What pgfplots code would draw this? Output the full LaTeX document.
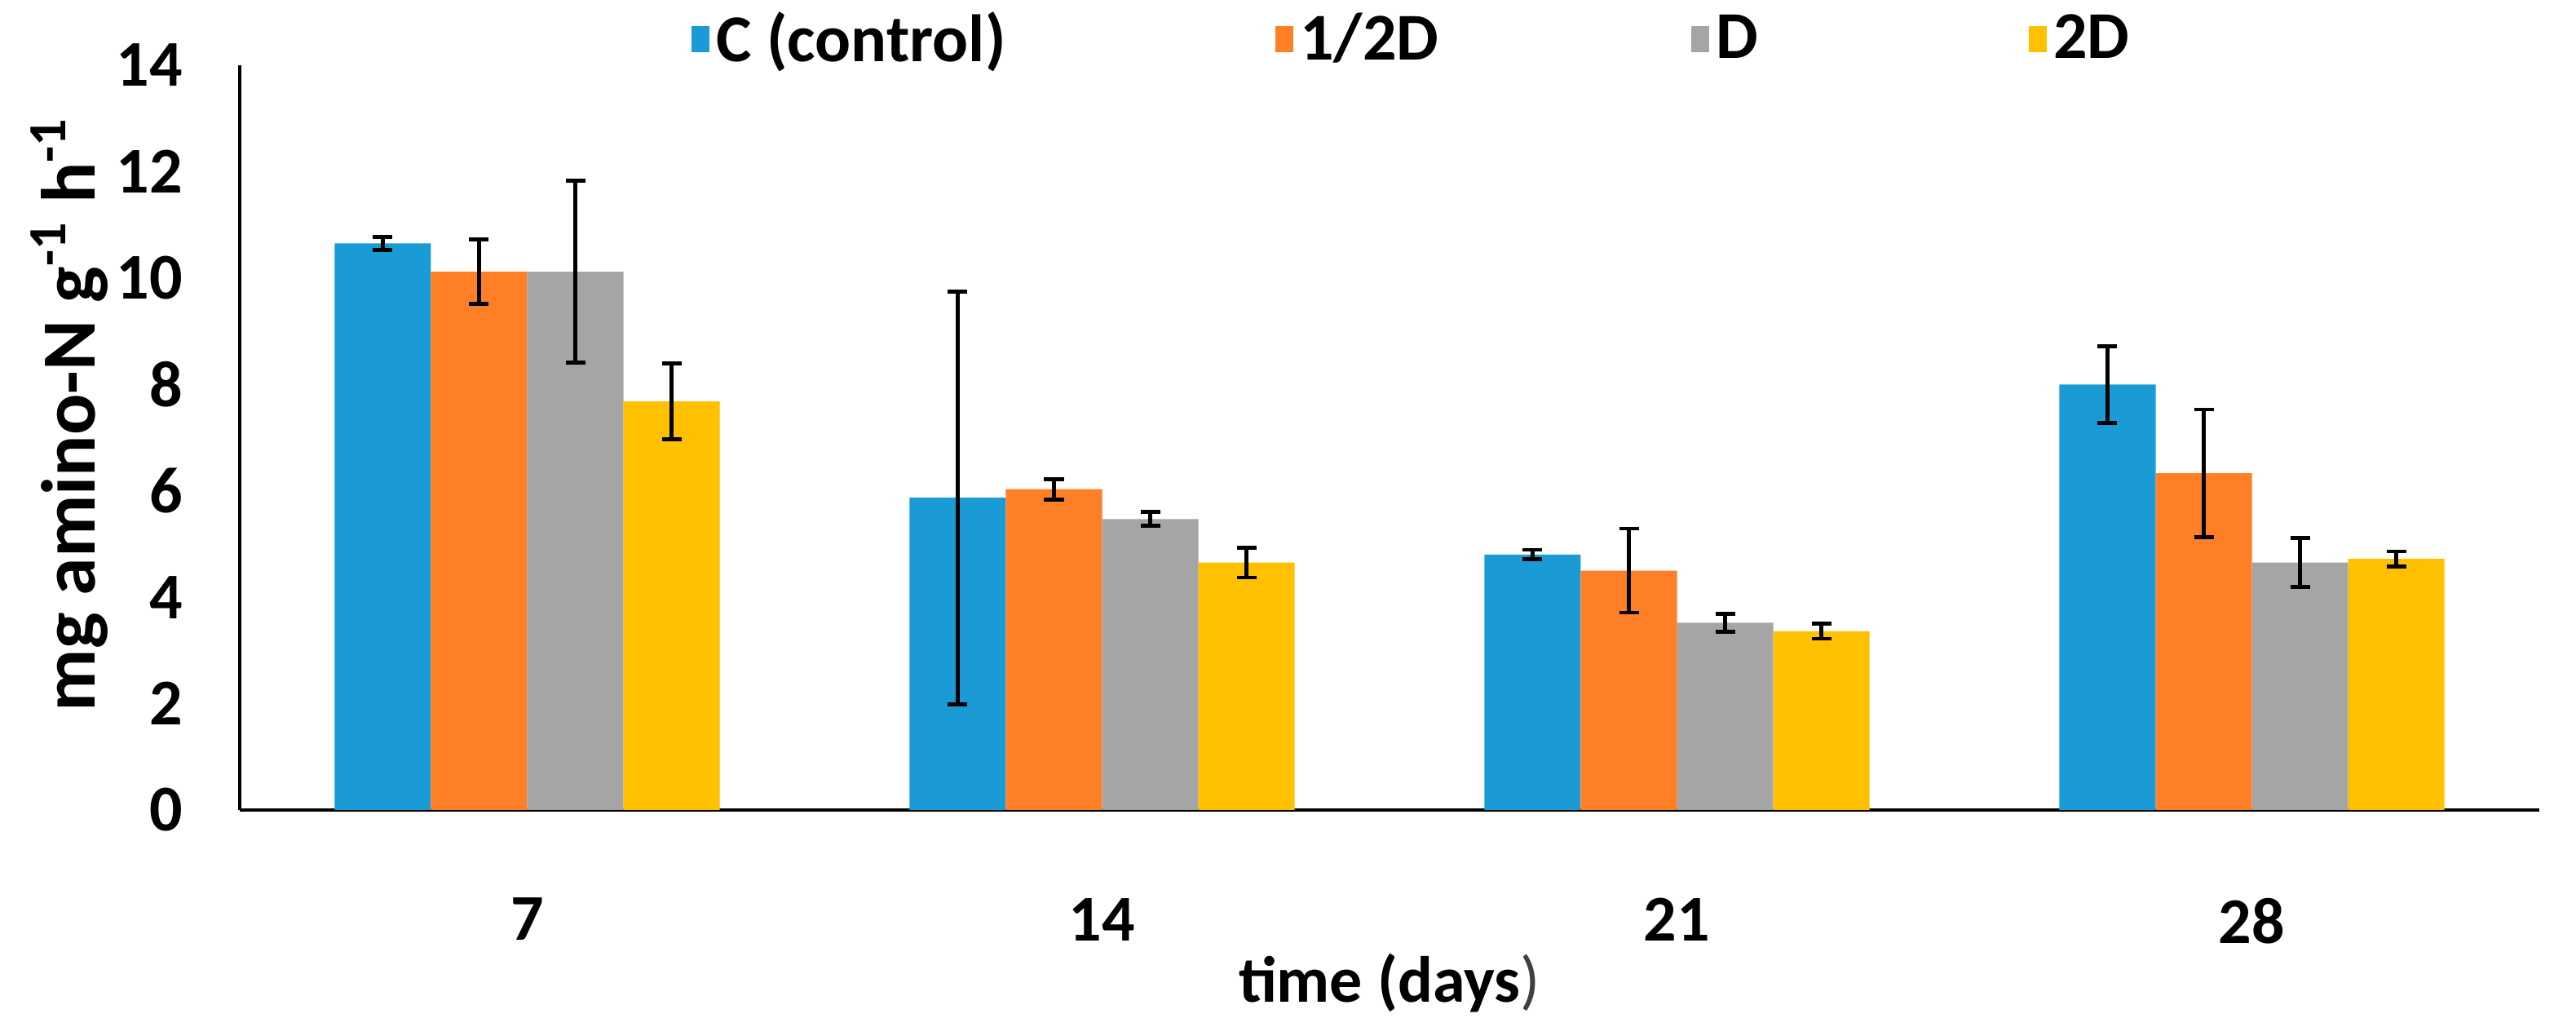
\documentclass[border=0pt]{standalone}
\usepackage{fontspec}
\setmainfont{Carlito}
\usepackage{pgfplots}
\pgfplotsset{compat=1.18}

\definecolor{cblue}{RGB}{27,155,214}
\definecolor{corange}{RGB}{255,127,39}
\definecolor{cgray}{RGB}{165,165,165}
\definecolor{cyellow}{RGB}{255,192,0}

\begin{document}
\begin{tikzpicture}
\path[use as bounding box] (-73.5pt,-66.5pt) rectangle (716.25pt,248.25pt);
\begin{axis}[
    scale only axis,
    width=705pt, height=228.25pt,
    at={(0,0)}, anchor=south west,
    ybar=0pt,
    bar width=0.1674,
    ymin=0, ymax=14,
    ytick={0,2,...,14},
    xmin=-0.5, xmax=3.5,
    xtick={0,1,2,3},
    xticklabels={7,14,21,28},
    axis x line*=bottom,
    axis y line*=left,
    x axis line style={line width=1.2pt,-},
    y axis line style={line width=0.8pt,-},
    major tick length=0pt,
    /pgf/number format/assume math mode=true,
    ticklabel style={font=\bfseries\fontsize{20}{24}\selectfont},
    yticklabel style={xshift=-14pt},
    xticklabel style={yshift=-23.5pt},
    xlabel={time (days{\mdseries\color{darkgray})}},
    ylabel={mg amino-N g\textsuperscript{-1} h\textsuperscript{-1}},
    xlabel style={font=\bfseries\fontsize{20}{24}\selectfont,
        at={(axis description cs:0.5,0)}, anchor=center, yshift=-53pt},
    ylabel style={font=\bfseries\fontsize{23.5}{28}\selectfont,
        at={(axis description cs:-0.074,0.531)}, anchor=center},
    legend columns=4,
    legend style={at={(axis description cs:0.5,1)}, anchor=center, xshift=7.5pt, yshift=8pt,
        draw=none, fill=none, font=\bfseries\fontsize{20.5}{24}\selectfont,
        /tikz/every even column/.append style={column sep=0pt}},
    legend image code/.code={\fill[#1] (0pt,-4pt) rectangle (5.5pt,4pt);},
    error bars/y dir=both,
    error bars/y explicit,
    error bars/error bar style={line width=1.2pt,black},
    error bars/error mark options={rotate=90,mark size=3pt,line width=1.2pt,black},
]
\addplot[fill=cblue,draw=none] coordinates {
    (0,10.65) +- (0,0.12)
    (1,5.87) +- (0,3.88)
    (2,4.80) +- (0,0.09)
    (3,8.00) +- (0,0.72)
};
\addplot[fill=corange,draw=none] coordinates {
    (0,10.12) +- (0,0.61)
    (1,6.03) +- (0,0.19)
    (2,4.50) +- (0,0.79)
    (3,6.33) +- (0,1.20)
};
\addplot[fill=cgray,draw=none] coordinates {
    (0,10.12) +- (0,1.71)
    (1,5.47) +- (0,0.13)
    (2,3.52) +- (0,0.17)
    (3,4.65) +- (0,0.46)
};
\addplot[fill=cyellow,draw=none] coordinates {
    (0,7.68) +- (0,0.71)
    (1,4.65) +- (0,0.28)
    (2,3.36) +- (0,0.14)
    (3,4.72) +- (0,0.14)
};
\legend{\makebox[169.5pt][l]{C (control)},\makebox[118pt][l]{1/2D},\makebox[94pt][l]{D},2D}
\end{axis}
\end{tikzpicture}
\end{document}
